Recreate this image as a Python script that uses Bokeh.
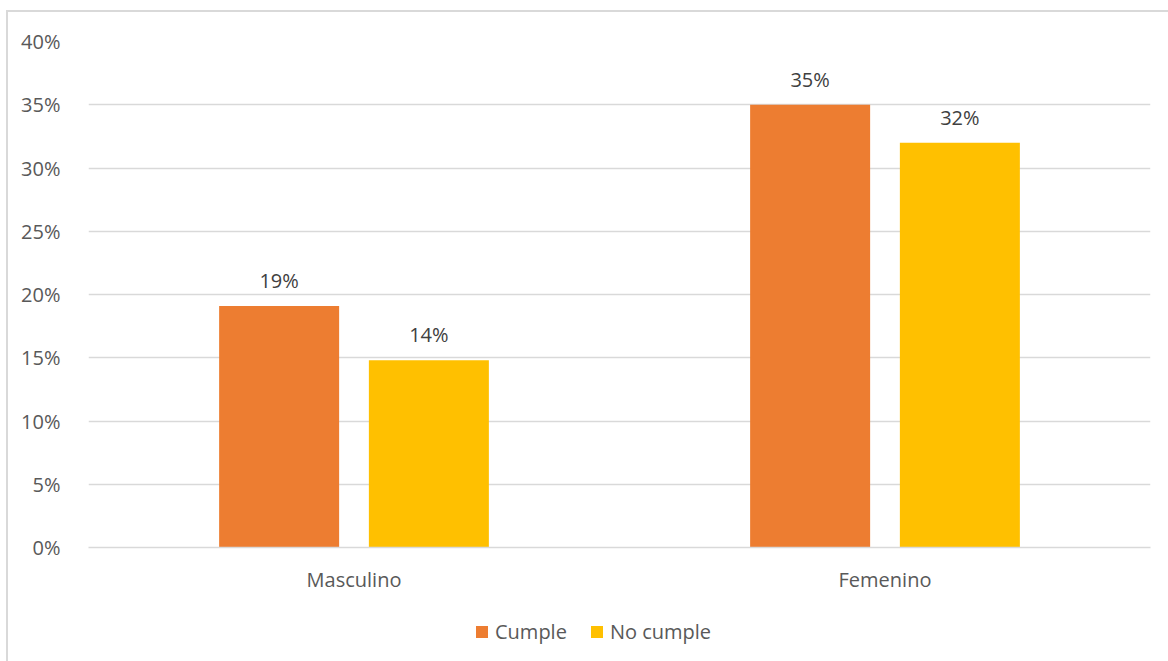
from bokeh.plotting import figure
from bokeh.layouts import column
from bokeh.models import ColumnDataSource, Legend, LegendItem, NumeralTickFormatter, FactorRange, Range1d
from bokeh.transform import dodge
from bokeh.core.properties import value
from bokeh.embed import file_html
from bokeh.resources import INLINE

categories = ["Masculino", "Femenino"]
cumple = [0.191, 0.35]
no_cumple = [0.148, 0.32]
cumple_labels = ["19%", "35%"]
no_cumple_labels = ["14%", "32%"]
series_names = ["Cumple", "No cumple"]
colors = ["#ED7D31", "#FFC000"]
y_ticks = [0, 0.05, 0.10, 0.15, 0.20, 0.25, 0.30, 0.35, 0.40]

FONT = "Open Sans"
TXT = "#595959"
FS = "20px"

src = ColumnDataSource(dict(cat=categories, c=cumple, n=no_cumple,
                            cl=cumple_labels, nl=no_cumple_labels))

xr = FactorRange(*categories, range_padding=0)
p = figure(x_range=xr, y_range=(0, 0.4),
           width=1160, height=593, output_backend="svg", toolbar_location=None,
           min_border_left=80, min_border_right=18, min_border_top=29, min_border_bottom=58)
p.outline_line_color = None
p.background_fill_color = "white"

r1 = p.vbar(x=dodge("cat", -0.141, range=xr), top="c", width=0.226, source=src,
            fill_color=colors[0], line_color=None)
r2 = p.vbar(x=dodge("cat", 0.141, range=xr), top="n", width=0.226, source=src,
            fill_color=colors[1], line_color=None)

for col, lab, off in (("c", "cl", -0.141), ("n", "nl", 0.141)):
    p.text(x=dodge("cat", off, range=xr), y=col, text=lab, source=src,
           text_align="center", text_baseline="bottom", y_offset=-12,
           text_font=value(FONT), text_font_size=FS, text_color="#404040")

p.ygrid.grid_line_color = "#d9d9d9"
p.ygrid.grid_line_width = 1.5
p.ygrid.ticker = y_ticks
p.xgrid.grid_line_color = None

p.yaxis.ticker = y_ticks
p.yaxis.formatter = NumeralTickFormatter(format="0%")
p.yaxis.axis_line_color = None
p.yaxis.major_tick_line_color = None
p.yaxis.minor_tick_line_color = None
p.yaxis.major_label_standoff = 22
p.yaxis.major_label_text_font = FONT
p.yaxis.major_label_text_font_size = FS
p.yaxis.major_label_text_color = TXT

p.xaxis.axis_line_color = "#d9d9d9"
p.xaxis.axis_line_width = 1.5
p.xaxis.major_tick_line_color = None
p.xaxis.minor_tick_line_color = None
p.xaxis.major_label_standoff = 12
p.xaxis.major_label_text_font = FONT
p.xaxis.major_label_text_font_size = FS
p.xaxis.major_label_text_color = TXT

# legend strip below the chart (series renderers kept far out of its visible range)
lg = figure(width=1160, height=56, x_range=xr, y_range=Range1d(10, 11),
            output_backend="svg", toolbar_location=None,
            x_axis_type=None, y_axis_type=None,
            min_border_left=0, min_border_right=0, min_border_top=0, min_border_bottom=0)
lg.outline_line_color = None
lg.xgrid.grid_line_color = None
lg.ygrid.grid_line_color = None
e1 = lg.vbar(x="cat", top="c", width=0.001, source=src, fill_color=colors[0], line_color=None)
e2 = lg.vbar(x="cat", top="n", width=0.001, source=src, fill_color=colors[1], line_color=None)

legend = Legend(items=[LegendItem(label=series_names[0], renderers=[e1]),
                       LegendItem(label=series_names[1], renderers=[e2])],
                orientation="horizontal", location=(386, 16), margin=0, padding=6,
                label_text_font=FONT, label_text_font_size=FS,
                label_text_color=TXT, glyph_width=15, glyph_height=15,
                spacing=22, label_standoff=6, border_line_color=None,
                background_fill_alpha=0)
lg.add_layout(legend, "center")

layout = column(p, lg, spacing=0,
                styles={"border-left": "2px solid #d9d9d9", "border-top": "2px solid #d9d9d9",
                        "margin-left": "6px", "margin-top": "10px"})

open("out.html", "w").write(file_html(layout, INLINE))
